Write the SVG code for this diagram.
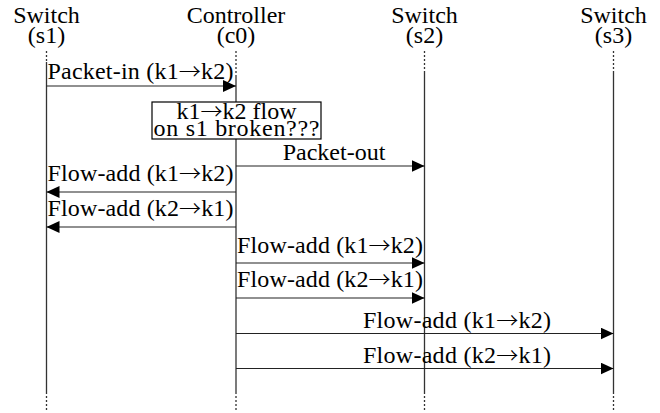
<svg xmlns="http://www.w3.org/2000/svg" width="660" height="413" viewBox="0 0 660 413">
  <style>
    text { font-family: "Liberation Serif", "Times New Roman", serif; font-size: 24px; fill: #000; }
    .c { text-anchor: middle; }
    .ar { font-family: "Noto Sans CJK JP", "DejaVu Sans", sans-serif; font-size: 22px; font-weight: 300; }
    .life { stroke: #333; stroke-width: 1.3; fill: none; }
    .dot { stroke: #333; stroke-width: 1.3; stroke-dasharray: 2 2; fill: none; }
    .msg { stroke: #222; stroke-width: 1.2; fill: none; }
    .note { fill: #fff; stroke: #000; stroke-width: 1.2; }
  </style>
  <defs>
    <marker id="head" viewBox="0 0 13 12" refX="13" refY="6" markerWidth="13" markerHeight="12" markerUnits="userSpaceOnUse" orient="auto">
      <path d="M0,0 L13,6 L0,12 Z" fill="#000"/>
    </marker>
  </defs>

  <!-- participants: two-line title, lifeline with dotted ends -->
  <g id="s1">
    <text class="c"><tspan x="46.5" y="22.5">Switch</tspan><tspan x="46.5" y="43">(s1)</tspan></text>
    <line class="dot" x1="46.5" y1="51" x2="46.5" y2="62"/>
    <line class="life" x1="46.5" y1="62" x2="46.5" y2="392"/>
    <line class="dot" x1="46.5" y1="392" x2="46.5" y2="411"/>
  </g>
  <g id="c0">
    <text class="c"><tspan x="236" y="22.5">Controller</tspan><tspan x="236" y="43">(c0)</tspan></text>
    <line class="dot" x1="236" y1="51" x2="236" y2="77"/>
    <line class="life" x1="236" y1="77" x2="236" y2="392"/>
    <line class="dot" x1="236" y1="392" x2="236" y2="411"/>
  </g>
  <g id="s2">
    <text class="c"><tspan x="424.5" y="22.5">Switch</tspan><tspan x="424.5" y="43">(s2)</tspan></text>
    <line class="dot" x1="424.5" y1="51" x2="424.5" y2="72"/>
    <line class="life" x1="424.5" y1="72" x2="424.5" y2="392"/>
    <line class="dot" x1="424.5" y1="392" x2="424.5" y2="411"/>
  </g>
  <g id="s3">
    <text class="c"><tspan x="613.5" y="22.5">Switch</tspan><tspan x="613.5" y="43">(s3)</tspan></text>
    <line class="dot" x1="613.5" y1="51" x2="613.5" y2="72"/>
    <line class="life" x1="613.5" y1="72" x2="613.5" y2="392"/>
    <line class="dot" x1="613.5" y1="392" x2="613.5" y2="411"/>
  </g>

  <!-- note on the controller -->
  <g id="note">
    <rect class="note" x="152" y="102" width="169" height="37"/>
    <text class="c"><tspan x="236.5" y="119">k1<tspan class="ar">→</tspan>k2 flow</tspan><tspan x="236.5" y="135.5" textLength="166" lengthAdjust="spacing">on s1 broken???</tspan></text>
  </g>

  <!-- messages -->
  <g id="connectors">
    <line class="msg" x1="46.5" y1="86" x2="236" y2="86" marker-end="url(#head)"/>
    <text class="c" x="140.5" y="79" textLength="186" lengthAdjust="spacing">Packet-in (k1<tspan class="ar">→</tspan>k2)</text>

    <line class="msg" x1="236" y1="166" x2="424.5" y2="166" marker-end="url(#head)"/>
    <text class="c" x="334" y="160">Packet-out</text>

    <line class="msg" x1="236" y1="192" x2="46.5" y2="192" marker-end="url(#head)"/>
    <text class="c" x="140.5" y="181" textLength="186" lengthAdjust="spacing">Flow-add (k1<tspan class="ar">→</tspan>k2)</text>

    <line class="msg" x1="236" y1="227" x2="46.5" y2="227" marker-end="url(#head)"/>
    <text class="c" x="140.5" y="216" textLength="186" lengthAdjust="spacing">Flow-add (k2<tspan class="ar">→</tspan>k1)</text>

    <line class="msg" x1="236" y1="263" x2="424.5" y2="263" marker-end="url(#head)"/>
    <text class="c" x="330" y="253" textLength="186" lengthAdjust="spacing">Flow-add (k1<tspan class="ar">→</tspan>k2)</text>

    <line class="msg" x1="236" y1="298" x2="424.5" y2="298" marker-end="url(#head)"/>
    <text class="c" x="330" y="287" textLength="186" lengthAdjust="spacing">Flow-add (k2<tspan class="ar">→</tspan>k1)</text>

    <line class="msg" x1="236" y1="333.5" x2="613.5" y2="333.5" marker-end="url(#head)"/>
    <text class="c" x="457" y="328" textLength="188" lengthAdjust="spacing">Flow-add (k1<tspan class="ar">→</tspan>k2)</text>

    <line class="msg" x1="236" y1="368.5" x2="613.5" y2="368.5" marker-end="url(#head)"/>
    <text class="c" x="457" y="363" textLength="188" lengthAdjust="spacing">Flow-add (k2<tspan class="ar">→</tspan>k1)</text>
  </g>
</svg>
